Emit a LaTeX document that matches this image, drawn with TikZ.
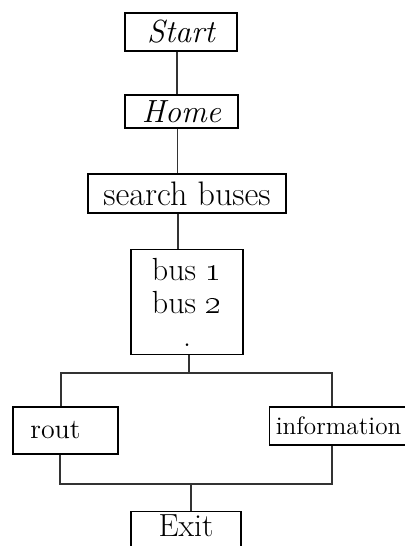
\documentclass[tikz,border=0pt]{standalone}
\usetikzlibrary{calc}
\usetikzlibrary{positioning}

\tikzset{
  flowbox/.style={draw, line width=0.6pt, inner sep=1.5pt, font=\fontsize{16}{16.5}\selectfont},
  link/.style={line width=0.6pt, draw=black!80},
}

\begin{document}
\begin{tikzpicture}[x=0.5pt, y=-0.5pt]
  \useasboundingbox (0,0) rectangle (405,546);

  % main column
  \node [flowbox, minimum width=56pt, minimum height=19pt, font=\fontsize{16}{16.5}\selectfont\itshape] (start) at (181,32) {Start};
  \node [flowbox, minimum width=56.5pt, minimum height=16.5pt, font=\fontsize{16}{16.5}\selectfont\itshape] (home) at (181.5,111.5) {Home};
  \node [flowbox, minimum width=99pt, minimum height=19.5pt, font=\fontsize{17}{18}\selectfont] (search) at (187,193.5) {search buses};
  \node [flowbox, anchor=north, minimum width=56pt, minimum height=52.5pt, align=center] (buses) at (187,249)
    {bus \oldstylenums{1}\\ bus \oldstylenums{2}\\ .};

  % branches
  \node [flowbox, minimum width=52.5pt, minimum height=23.5pt, font=\fontsize{14}{15}\selectfont] (rout) at (65.5,430.5) {\hspace*{-10pt}rout};
  \node [flowbox, anchor=west, inner xsep=0.8pt, minimum width=75pt, minimum height=19pt, font=\fontsize{12.6}{15}\selectfont] (info) at (269,426) {information\hspace*{6pt}};
  \node [flowbox, anchor=north, minimum width=55pt, inner ysep=1.5pt, text depth=15pt] (exit) at (186,511) {Exit};

  \coordinate (splitL) at (61,373);
  \coordinate (splitR) at (332,373);
  \coordinate (split) at (189,373);
  \coordinate (mergeL) at (60,484);
  \coordinate (mergeR) at (332,484);
  \coordinate (merge) at (191,484);

  \draw [link] ([xshift=-2pt]start.south) -- ([xshift=-2pt]start.south |- home.north);
  \draw [link] ([xshift=-2pt]home.south) -- ([xshift=-2pt]home.south |- search.north);
  \draw [link] ([xshift=-4.5pt]search.south) -- ([xshift=-4.5pt]search.south |- buses.north);
  \draw [link] (split |- buses.south) -- (split);
  \draw [link] (splitL |- rout.north) -- (splitL) -- (splitR) -- (splitR |- info.north);
  \draw [link] (mergeL |- rout.south) -- (mergeL) -- (mergeR) -- (mergeR |- info.south);
  \draw [link] (merge) -- (merge |- exit.north);

\end{tikzpicture}
\end{document}
